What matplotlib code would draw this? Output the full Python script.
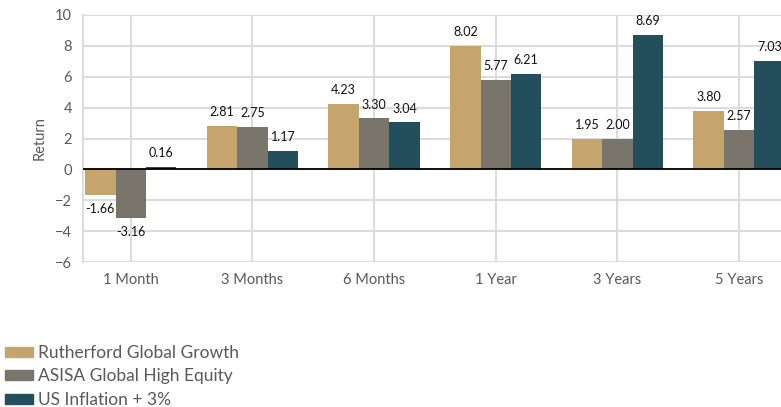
import numpy as np
import matplotlib.pyplot as plt
from matplotlib.patches import Patch

plt.rcParams['font.family'] = ['Lato', 'DejaVu Sans']

periods = ["1 Month", "3 Months", "6 Months", "1 Year", "3 Years", "5 Years"]
rutherford = [-1.66, 2.81, 4.23, 8.02, 1.95, 3.80]
asisa = [-3.16, 2.75, 3.30, 5.77, 2.00, 2.57]
us_infl = [0.16, 1.17, 3.04, 6.21, 8.69, 7.03]
names = ["Rutherford Global Growth", "ASISA Global High Equity", "US Inflation + 3%"]
colors = ["#C5A56D", "#79756B", "#234E5C"]

fig = plt.figure(figsize=(7.81, 4.07), dpi=100)
ax = fig.add_axes([83 / 781, 1 - 262 / 407, 1 - 83 / 781, (262 - 15) / 407])

x = np.arange(len(periods))
w = 0.25
for i, (vals, c) in enumerate(zip([rutherford, asisa, us_infl], colors)):
    pos = x + (i - 1) * w
    ax.bar(pos, vals, width=w, color=c, zorder=2)
    for px, v in zip(pos, vals):
        off = 10 if v >= 0 else -10
        ax.annotate(f"{v:.2f}", (px, v), xytext=(0, off), textcoords="offset points",
                    ha="center", va="center", fontsize=9, color="#111111")

ax.axhline(0, color="black", lw=1.3, zorder=3)
ax.set_xlim(-0.393, 5.345)
ax.set_ylim(-6, 10)
ax.set_yticks(range(-6, 11, 2))
ax.set_xticks(x)
ax.set_xticklabels(periods)
ax.grid(True, color="#dcdcdc", lw=1.5, zorder=0)
ax.set_axisbelow(True)
for s in ["top", "right", "bottom"]:
    ax.spines[s].set_visible(False)
ax.spines["left"].set_color("#dcdcdc")
ax.spines["left"].set_linewidth(1.5)
ax.tick_params(length=0, labelsize=10.5, colors="#595959", pad=8)
ax.set_ylabel("Return", fontsize=10.5, color="#595959", labelpad=6)

handles = [Patch(color=c) for c in colors]
fig.legend(handles, names, loc="upper left", bbox_to_anchor=(0.0, 1 - 340 / 407),
           frameon=False, fontsize=12.5, handlelength=1.6, handleheight=0.5,
           handletextpad=0.3, labelspacing=0.42, borderaxespad=0, borderpad=0.3,
           labelcolor="#595959")

fig.savefig("out.png", dpi=100)
